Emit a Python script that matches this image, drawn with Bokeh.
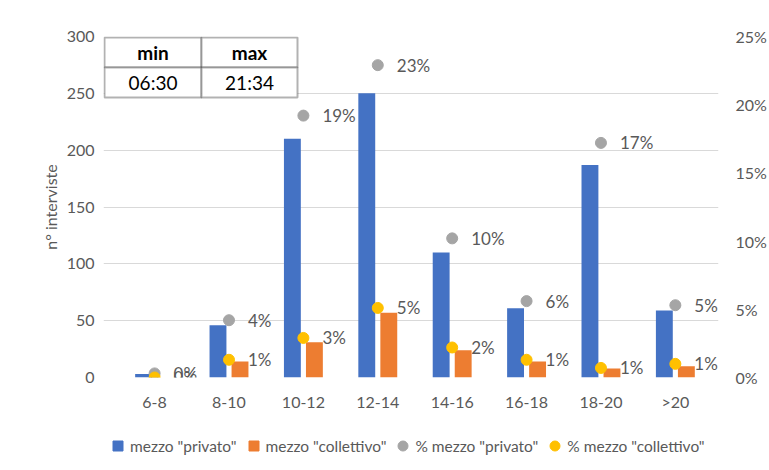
from bokeh.plotting import figure
from bokeh.layouts import column
from bokeh.core.properties import value
from bokeh.models import (ColumnDataSource, Range1d, LinearAxis, SingleIntervalTicker, FixedTicker,
                          PrintfTickFormatter, Legend, LegendItem, BoxAnnotation, Label)
from bokeh.embed import file_html
from bokeh.resources import INLINE

# Fasce orarie e numero di interviste per tipo di mezzo
fasce = ["6-8", "8-10", "10-12", "12-14", "14-16", "16-18", "18-20", ">20"]
privato = [3, 46, 210, 250, 110, 61, 187, 59]
collettivo = [0, 14, 31, 57, 24, 14, 8, 10]
# Quota percentuale sul totale delle interviste
pct_privato = [0.3, 4.2, 19.2, 22.9, 10.2, 5.6, 17.2, 5.3]
pct_collettivo = [0.0, 1.3, 2.9, 5.1, 2.2, 1.3, 0.7, 1.0]
# Riquadro orari min / max
tabella_intestazioni = ["min", "max"]
tabella_orari = ["06:30", "21:34"]
# Voci di legenda
serie = ['mezzo "privato"', 'mezzo "collettivo"', '% mezzo "privato"', '% mezzo "collettivo"']

FONT = "Lato"
GRAY = "#595959"
BLUE = "#4472C4"
ORANGE = "#ED7D31"
DOT_GRAY = "#A5A5A5"
YELLOW = "#FFC000"

BAR_W = 0.227
BAR_SHIFT = 0.148

centri = [i + 0.5 for i in range(len(fasce))]
src = ColumnDataSource(dict(
    xc=centri,
    xp=[c - BAR_SHIFT for c in centri],
    xk=[c + BAR_SHIFT for c in centri],
    privato=privato, collettivo=collettivo,
    pct_p=pct_privato, pct_c=pct_collettivo,
    lbl_p=[f"{round(v)}%" for v in pct_privato],
    lbl_c=[f"{round(v)}%" for v in pct_collettivo],
))

p = figure(x_range=Range1d(-0.187, 8.080), y_range=Range1d(0, 300), width=769, height=427,
           output_backend="svg", toolbar_location=None,
           min_border_left=103, min_border_right=47, min_border_top=36, min_border_bottom=50)
p.extra_y_ranges = {"pct": Range1d(0, 25)}
p.outline_line_color = None

p.xgrid.grid_line_color = None
p.ygrid.grid_line_color = "#D9D9D9"
p.ygrid.grid_line_width = 1

# Axes
yl = p.yaxis[0]
yl.ticker = SingleIntervalTicker(interval=50)
yl.axis_label = "n° interviste"
yl.axis_label_text_font = FONT
yl.axis_label_text_font_size = "16px"
yl.axis_label_text_font_style = "normal"
yl.axis_label_text_color = GRAY
yl.axis_label_standoff = 4
yl.major_label_standoff = 5

yr = LinearAxis(y_range_name="pct", ticker=SingleIntervalTicker(interval=5),
                formatter=PrintfTickFormatter(format="%d%%"))
yr.major_label_standoff = 13
p.add_layout(yr, "right")

xa = p.xaxis[0]
xa.ticker = FixedTicker(ticks=centri)
xa.major_label_overrides = {c: f for c, f in zip(centri, fasce)}
xa.major_label_standoff = 14

for ax in (yl, yr, xa):
    ax.axis_line_color = None
    ax.major_tick_line_color = None
    ax.minor_tick_line_color = None
    ax.major_tick_in = 0
    ax.major_tick_out = 0
    ax.major_label_text_font = FONT
    ax.major_label_text_font_size = "16px"
    ax.major_label_text_color = GRAY

# Bars
p.vbar(x="xp", top="privato", width=BAR_W, source=src, fill_color=BLUE, line_color=None)
p.vbar(x="xk", top="collettivo", width=BAR_W, source=src, fill_color=ORANGE, line_color=None)

# Percentage dots and their labels
p.scatter(x="xc", y="pct_p", y_range_name="pct", source=src, size=11,
          fill_color=DOT_GRAY, line_color=DOT_GRAY)
p.scatter(x="xc", y="pct_c", y_range_name="pct", source=src, size=11,
          fill_color=YELLOW, line_color=YELLOW)
for col, ycol in (("lbl_p", "pct_p"), ("lbl_c", "pct_c")):
    p.text(x="xc", y=ycol, text=col, y_range_name="pct", source=src,
           x_offset=19, text_align="left", text_baseline="middle",
           text_font=value(FONT), text_font_size="17px", text_color=GRAY)

# Min / max time box
xs = [1, 98, 194]
ys = [340, 310, 280]
for i in range(2):
    for j in range(2):
        p.add_layout(BoxAnnotation(left=xs[j], right=xs[j + 1], top=ys[i], bottom=ys[i + 1],
                                   left_units="screen", right_units="screen",
                                   top_units="screen", bottom_units="screen",
                                   fill_color="white", fill_alpha=1,
                                   line_color="black", line_width=2))
rows = [tabella_intestazioni, tabella_orari]
for i, row in enumerate(rows):
    for j, txt in enumerate(row):
        p.add_layout(Label(x=(xs[j] + xs[j + 1]) / 2, y=(ys[i] + ys[i + 1]) / 2,
                           x_units="screen", y_units="screen", text=txt,
                           text_align="center", text_baseline="middle",
                           text_font=FONT, text_font_size="19px",
                           text_font_style="bold" if i == 0 else "normal",
                           text_color="black"))

# Legend strip under the chart
pl = figure(x_range=Range1d(0, 1), y_range=Range1d(0, 1), width=769, height=43,
            output_backend="svg", toolbar_location=None,
            x_axis_location=None, y_axis_location=None,
            min_border_left=0, min_border_right=0, min_border_top=0, min_border_bottom=0)
pl.outline_line_color = None
pl.grid.grid_line_color = None
swatches = []
for marker, color in (("square", BLUE), ("square", ORANGE), ("circle", DOT_GRAY), ("circle", YELLOW)):
    # one point kept outside the visible range, used only as legend glyph
    swatches.append(pl.scatter(x=[-100], y=[-100], marker=marker, size=11,
                               fill_color=color, line_color=color))

legend = Legend(items=[LegendItem(label=s, renderers=[r]) for s, r in zip(serie, swatches)],
                location=(2, 12), orientation="horizontal",
                glyph_width=25, glyph_height=25, label_standoff=-4, spacing=4,
                padding=0, margin=0, border_line_color=None, background_fill_alpha=0,
                label_text_font=FONT, label_text_font_size="15.5px", label_text_color=GRAY)
pl.add_layout(legend)

open("out.html", "w").write(file_html(column(p, pl, spacing=0), INLINE))
